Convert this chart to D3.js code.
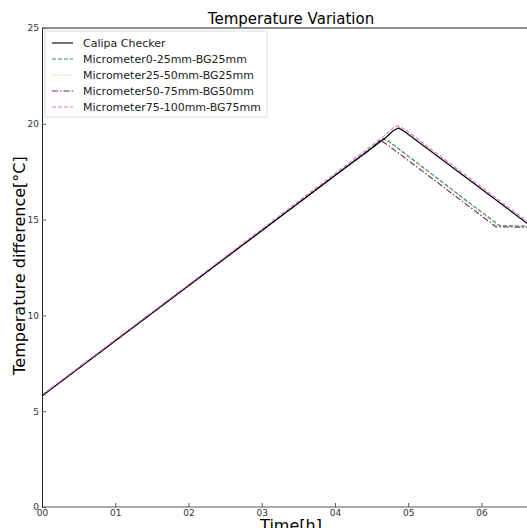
<!DOCTYPE html>
<html>
<head>
<meta charset="utf-8">
<script src="https://cdn.jsdelivr.net/npm/d3@7"></script>
<style>
body { margin: 0; background: #fff; }
svg { display: block; font-family: "DejaVu Sans", sans-serif; }
</style>
</head>
<body>
<svg></svg>
<script>
// series names, in legend order
var seriesNames = [
    "Calipa Checker",
    "Micrometer0-25mm-BG25mm",
    "Micrometer25-50mm-BG25mm",
    "Micrometer50-75mm-BG50mm",
    "Micrometer75-100mm-BG75mm"
];

// time [h] and temperature difference for each series
var timeCalipa = [0, 2, 4, 4.7, 4.8, 4.87, 4.95, 6, 6.8];
var valCalipa  = [5.8, 11.55, 17.3, 19.3, 19.65, 19.78, 19.6, 16.6, 14.3];

var timeMic0 = [0, 2, 4, 4.5, 4.6, 4.66, 4.75, 6, 6.25, 6.8];
var valMic0  = [5.8, 11.55, 17.3, 18.75, 19.1, 19.22, 19.05, 15.4, 14.68, 14.65];

var timeMic25 = [0, 2, 4, 4.5, 4.6, 4.66, 4.75, 6, 6.22, 6.8];
var valMic25  = [5.8, 11.55, 17.3, 18.75, 19.1, 19.2, 19.0, 15.35, 14.68, 14.66];

var timeMic50 = [0, 2, 4, 4.5, 4.58, 4.63, 4.72, 6, 6.2, 6.8];
var valMic50  = [5.8, 11.55, 17.3, 18.7, 19.0, 19.12, 18.9, 15.2, 14.62, 14.6];

var timeMic75 = [0, 2, 4, 4.7, 4.8, 4.86, 4.95, 6, 6.8];
var valMic75  = [5.85, 11.6, 17.4, 19.45, 19.8, 19.9, 19.72, 16.7, 14.4];

var xTicks = [0, 1, 2, 3, 4, 5, 6];
var xTickLabels = ["00", "01", "02", "03", "04", "05", "06"];
var yTicks = [0, 5, 10, 15, 20, 25];

var styles = [
    { color: "#000000", dash: null },
    { color: "#2e8b57", dash: "4,2" },
    { color: "#d8d890", dash: "1.5,1.5" },
    { color: "#7a1f6e", dash: "6,2,1.5,2" },
    { color: "#e070d8", dash: "4,2" }
];

var width = 527;
var height = 528;
var margin = { left: 42, top: 28, right: -13, bottom: 21 };

var svg = d3.select("svg").attr("width", width).attr("height", height);

var x = d3.scaleLinear().domain([0, 6.8]).range([margin.left, width - margin.right]);
var y = d3.scaleLinear().domain([0, 25]).range([height - margin.bottom, margin.top]);

var allSeries = [
    d3.zip(timeCalipa, valCalipa),
    d3.zip(timeMic0, valMic0),
    d3.zip(timeMic25, valMic25),
    d3.zip(timeMic50, valMic50),
    d3.zip(timeMic75, valMic75)
];

// frame: top line
svg.append("line")
    .attr("x1", x(0)).attr("x2", width)
    .attr("y1", y(25)).attr("y2", y(25))
    .attr("stroke", "#222").attr("stroke-width", 1);

var line = d3.line().x(d => x(d[0])).y(d => y(d[1]));

var g = svg.append("g");
// draw in an order so black / pink sit on top like the picture
[2, 1, 3, 0, 4].forEach(function(i) {
    g.append("path")
        .datum(allSeries[i])
        .attr("fill", "none")
        .attr("stroke", styles[i].color)
        .attr("stroke-width", i == 0 ? 1.2 : 1.1)
        .attr("stroke-dasharray", styles[i].dash)
        .attr("d", line);
});

// axes, ticks inside
var xAxis = d3.axisBottom(x).tickValues(xTicks)
    .tickFormat((d, i) => xTickLabels[i])
    .tickSizeInner(-4).tickSizeOuter(0).tickPadding(3);
var yAxis = d3.axisLeft(y).tickValues(yTicks)
    .tickSizeInner(-4).tickSizeOuter(0).tickPadding(3);

var gx = svg.append("g")
    .attr("transform", "translate(0," + y(0) + ")")
    .call(xAxis);
gx.select(".domain").attr("d", "M" + x(0) + ",0H" + width).attr("stroke", "#555");

var gy = svg.append("g")
    .attr("transform", "translate(" + x(0) + ",0)")
    .call(yAxis);
gy.select(".domain").attr("stroke", "#222");

svg.selectAll(".tick text").attr("font-size", 9).attr("fill", "#333")
    .attr("font-family", "DejaVu Sans, sans-serif");
svg.selectAll(".tick line").attr("stroke", "#555");
gy.selectAll(".tick text").attr("dy", "0.32em");

// title and axis labels
svg.append("text")
    .attr("x", (x(0) + x(6.8)) / 2).attr("y", 24)
    .attr("text-anchor", "middle")
    .attr("font-size", 15)
    .text("Temperature Variation");

svg.append("text")
    .attr("x", (x(0) + x(6.8)) / 2).attr("y", 531)
    .attr("text-anchor", "middle")
    .attr("font-size", 16)
    .text("Time[h]");

svg.append("text")
    .attr("transform", "translate(25," + (y(12.5) - 2) + ") rotate(-90)")
    .attr("text-anchor", "middle")
    .attr("font-size", 16)
    .text("Temperature difference[°C]");

// legend
var legend = svg.append("g").attr("transform", "translate(45,31)");
legend.append("rect")
    .attr("width", 222).attr("height", 86)
    .attr("fill", "#fff").attr("stroke", "#ddd");

seriesNames.forEach(function(name, i) {
    var ly = 12 + i * 16;
    legend.append("line")
        .attr("x1", 7).attr("x2", 28)
        .attr("y1", ly).attr("y2", ly)
        .attr("stroke", styles[i].color)
        .attr("stroke-width", 1.1)
        .attr("stroke-dasharray", styles[i].dash);
    legend.append("text")
        .attr("x", 38).attr("y", ly)
        .attr("dy", "0.35em")
        .attr("font-size", 11)
        .attr("fill", "#222")
        .text(name);
});
</script>
</body>
</html>
